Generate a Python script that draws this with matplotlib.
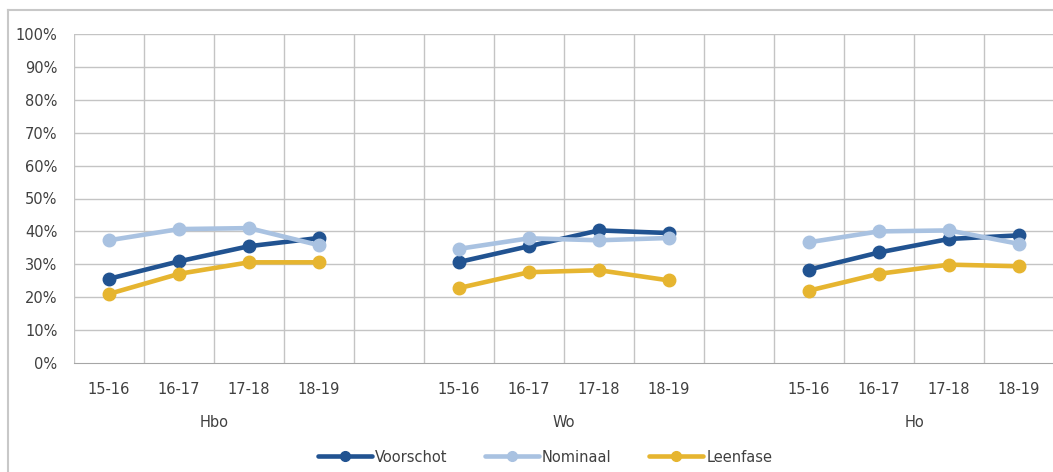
import matplotlib.pyplot as plt
from matplotlib.lines import Line2D
import numpy as np

# categories per sector
years = ['15-16', '16-17', '17-18', '18-19']
sectors = ['Hbo', 'Wo', 'Ho']

# values in percent, per sector (Hbo, Wo, Ho)
voorschot = [[25.6, 30.9, 35.5, 38.0],
             [30.7, 35.5, 40.3, 39.5],
             [28.4, 33.6, 37.7, 38.8]]
nominaal = [[37.3, 40.7, 41.0, 35.8],
            [34.7, 37.9, 37.3, 38.0],
            [36.7, 40.0, 40.3, 36.2]]
leenfase = [[21.0, 27.1, 30.6, 30.6],
            [22.8, 27.6, 28.2, 25.1],
            [22.0, 27.1, 29.9, 29.4]]

series_names = ['Voorschot', 'Nominaal', 'Leenfase']
colors = ['#215391', '#A9C2E1', '#E6B530']

plt.rcParams['font.family'] = ['DejaVu Sans']

fig = plt.figure(figsize=(10.53, 4.72), dpi=100)
ax = fig.add_axes([74 / 1053, 1 - 363 / 472, 980 / 1053, 329 / 472])

# chart area border (cropped at right/bottom)
fig.add_artist(Line2D([8 / 1053, 1.0], [1 - 10 / 472, 1 - 10 / 472],
                      transform=fig.transFigure, color='#C8C8C8', lw=1.5))
fig.add_artist(Line2D([8 / 1053, 8 / 1053], [0, 1 - 10 / 472],
                      transform=fig.transFigure, color='#C8C8C8', lw=1.5))

n_years = len(years)
all_data = [voorschot, nominaal, leenfase]
for name, col, data in zip(series_names, colors, all_data):
    for gi in range(len(sectors)):
        xs = np.arange(n_years) + gi * (n_years + 1)
        ax.plot(xs, np.array(data[gi]) / 100, '-o', color=col, lw=3.3,
                markersize=9, solid_capstyle='round', zorder=3,
                label=name if gi == 0 else None)

ax.set_xlim(-0.5, 3 * n_years + 2 - 0.5)
ax.set_ylim(0, 1)
ax.set_yticks(np.arange(0, 1.01, 0.1))
ax.set_yticklabels([f'{int(round(v * 100))}%' for v in np.arange(0, 1.01, 0.1)])

ticks = []
labels = []
for gi in range(len(sectors)):
    for yi, y in enumerate(years):
        ticks.append(gi * (n_years + 1) + yi)
        labels.append(y)
ax.set_xticks(ticks)
ax.set_xticklabels(labels)
ax.tick_params(axis='both', length=0, labelsize=10.5, colors='#404040')
ax.tick_params(axis='x', pad=14)
ax.tick_params(axis='y', pad=12)

# gridlines between categories
for b in np.arange(-0.5, 3 * n_years + 2, 1.0):
    ax.axvline(b, color='#C4C4C4', lw=1, zorder=1)
for v in np.arange(0.1, 1.01, 0.1):
    ax.axhline(v, color='#C4C4C4', lw=1, zorder=1)

for s in ['top', 'right', 'left']:
    ax.spines[s].set_visible(False)
ax.spines['bottom'].set_color('#A6A6A6')

# sector labels
for gi, sec in enumerate(sectors):
    ax.text(gi * (n_years + 1) + 1.5, -0.18, sec, ha='center', va='center',
            fontsize=10.5, color='#404040', transform=ax.get_xaxis_transform())

leg = fig.legend(loc='center', bbox_to_anchor=(545 / 1053, 1 - 457 / 472),
                 ncol=3, frameon=False, fontsize=10.5, handlelength=3.7,
                 columnspacing=2.6, handletextpad=0.2)
for t in leg.get_texts():
    t.set_color('#404040')
for h in leg.legend_handles:
    h.set_markersize(7)

fig.savefig('out.png', dpi=100)
